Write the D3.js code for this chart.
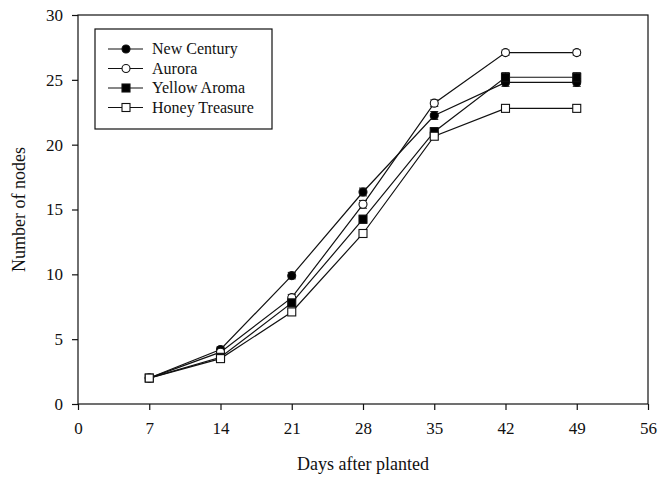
<!DOCTYPE html>
<html><head><meta charset="utf-8">
<script src="https://cdn.jsdelivr.net/npm/d3@7"></script>
<style>body{margin:0;background:#fff}svg{display:block}text{font-family:"Liberation Serif","Times New Roman",serif;fill:#111}</style>
</head><body><svg id="c" width="658" height="477"></svg>
<script>
const days = [7, 14, 21, 28, 35, 42, 49];
const seriesNames = ["New Century", "Aurora", "Yellow Aroma", "Honey Treasure"];
const newCentury = [2.0, 4.2, 9.9, 16.35, 22.25, 24.8, 24.8];
const aurora = [2.0, 4.0, 8.2, 15.4, 23.2, 27.1, 27.1];
const yellowAroma = [2.0, 3.6, 7.8, 14.25, 21.0, 25.2, 25.2];
const honeyTreasure = [2.0, 3.5, 7.1, 13.15, 20.65, 22.8, 22.8];
const errNewCentury = [0.05, 0.2, 0.25, 0.3, 0.3, 0.3, 0.3];
const errAurora = [0.05, 0.2, 0.25, 0.3, 0.25, 0.2, 0.2];
const errYellowAroma = [0.05, 0.2, 0.25, 0.3, 0.3, 0.35, 0.35];
const errHoneyTreasure = [0.05, 0.15, 0.2, 0.25, 0.25, 0.25, 0.25];
const xTicks = [0, 7, 14, 21, 28, 35, 42, 49, 56];
const yTicks = [0, 5, 10, 15, 20, 25, 30];

const series = [
  {name: seriesNames[0], v: newCentury, e: errNewCentury, shape: "circle", fill: "#000"},
  {name: seriesNames[1], v: aurora, e: errAurora, shape: "circle", fill: "#fff"},
  {name: seriesNames[2], v: yellowAroma, e: errYellowAroma, shape: "square", fill: "#000"},
  {name: seriesNames[3], v: honeyTreasure, e: errHoneyTreasure, shape: "square", fill: "#fff"}
];

const svg = d3.select("#c");
const L = 78, R = 648, T = 15, B = 404;
const x = d3.scaleLinear().domain([0, 56]).range([L, R]);
const y = d3.scaleLinear().domain([0, 30]).range([B, T]);

// frame
svg.append("rect").attr("x", L).attr("y", T).attr("width", R - L).attr("height", B - T)
  .attr("fill", "none").attr("stroke", "#111").attr("stroke-width", 1.2);

const xAxis = svg.append("g").attr("transform", `translate(0,${B})`)
  .call(d3.axisBottom(x).tickValues(xTicks).tickSize(6).tickPadding(12).tickFormat(d3.format("d")));
const yAxis = svg.append("g").attr("transform", `translate(${L},0)`)
  .call(d3.axisLeft(y).tickValues(yTicks).tickSize(6).tickPadding(9).tickFormat(d3.format("d")));
[xAxis, yAxis].forEach(g => {
  g.select(".domain").remove();
  g.selectAll("line").attr("stroke", "#111").attr("stroke-width", 1.2);
  g.selectAll("text").attr("font-family", '"Liberation Serif",serif').attr("font-size", 17).attr("fill", "#111");
});

svg.append("text").attr("x", x(28)).attr("y", 470).attr("text-anchor", "middle")
  .attr("font-size", 18).text("Days after planted");
svg.append("text").attr("transform", `translate(25,${(T + B) / 2}) rotate(-90)`).attr("text-anchor", "middle")
  .attr("font-size", 18).text("Number of nodes");

const line = d3.line().x((d, i) => x(days[i])).y(d => y(d));
const plot = svg.append("g");

series.forEach(s => {
  plot.append("path").datum(s.v).attr("d", line).attr("fill", "none")
    .attr("stroke", "#111").attr("stroke-width", 1.2);
});
series.forEach(s => {
  const g = plot.append("g");
  s.v.forEach((v, i) => {
    const cx = x(days[i]);
    const e = s.e[i];
    g.append("line").attr("x1", cx).attr("x2", cx).attr("y1", y(v + e)).attr("y2", y(v - e)).attr("stroke", "#111");
    [v + e, v - e].forEach(w => g.append("line").attr("x1", cx - 4).attr("x2", cx + 4).attr("y1", y(w)).attr("y2", y(w)).attr("stroke", "#111"));
  });
  s.v.forEach((v, i) => {
    const cx = x(days[i]), cy = y(v);
    if (s.shape === "circle") g.append("circle").attr("cx", cx).attr("cy", cy).attr("r", 4).attr("fill", s.fill).attr("stroke", "#111").attr("stroke-width", 1.1);
    else g.append("rect").attr("x", cx - 4).attr("y", cy - 4).attr("width", 8).attr("height", 8).attr("fill", s.fill).attr("stroke", "#111").attr("stroke-width", 1.1);
  });
});

// legend
const lg = svg.append("g");
lg.append("rect").attr("x", 95).attr("y", 29).attr("width", 177).attr("height", 100)
  .attr("fill", "#fff").attr("stroke", "#111").attr("stroke-width", 1.2);
series.forEach((s, i) => {
  const yy = 49 + i * 19.5;
  lg.append("line").attr("x1", 108).attr("x2", 143).attr("y1", yy).attr("y2", yy).attr("stroke", "#111").attr("stroke-width", 1.2);
  if (s.shape === "circle") lg.append("circle").attr("cx", 126).attr("cy", yy).attr("r", 4).attr("fill", s.fill).attr("stroke", "#111").attr("stroke-width", 1.1);
  else lg.append("rect").attr("x", 122).attr("y", yy - 4).attr("width", 8).attr("height", 8).attr("fill", s.fill).attr("stroke", "#111").attr("stroke-width", 1.1);
  lg.append("text").attr("x", 152).attr("y", yy + 5).attr("font-size", 16).text(s.name);
});
</script></body></html>
